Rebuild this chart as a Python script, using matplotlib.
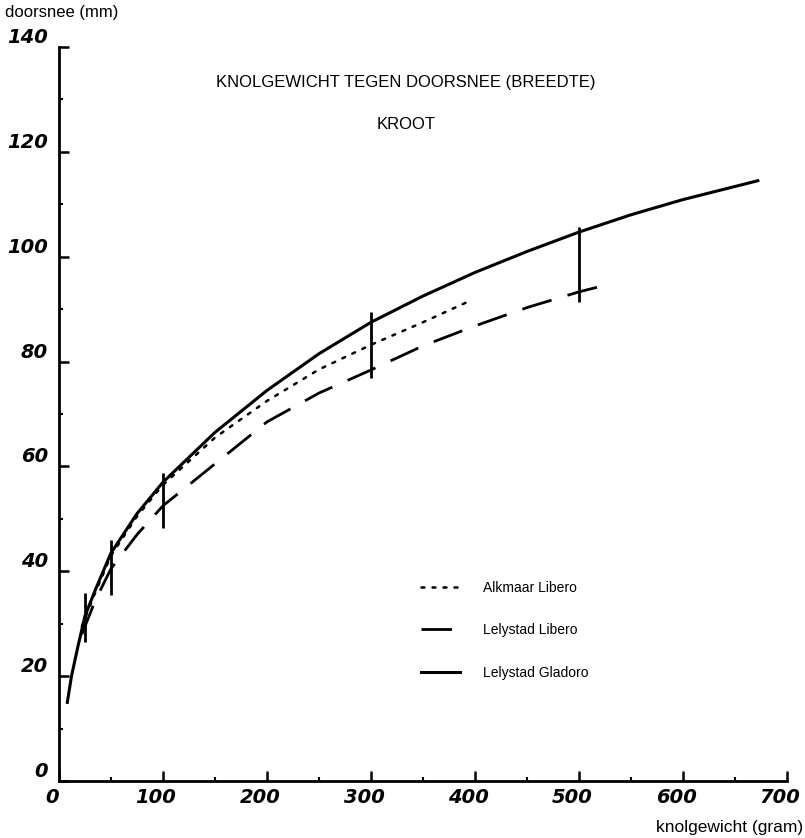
import matplotlib
matplotlib.use("Agg")
import matplotlib.pyplot as plt
import matplotlib.transforms as mtransforms
from matplotlib.ticker import MultipleLocator

# Lelystad Gladoro (solid)
glad_x = [8, 12, 18, 25, 35, 50, 75, 100, 150, 200, 250, 300, 350, 400, 450, 500, 550, 600, 650, 672]
glad_y = [15, 20, 25.5, 31.5, 36.5, 43.5, 51, 57, 66.5, 74.5, 81.5, 87.5, 92.5, 97, 101, 104.7, 108, 110.9, 113.4, 114.5]

# Alkmaar Libero (dotted)
alk_x = [22, 35, 50, 75, 100, 150, 200, 250, 300, 350, 393]
alk_y = [29.5, 36, 43, 50.5, 56.5, 65.5, 72.5, 78.5, 83.2, 87.5, 91.4]

# Lelystad Libero (dashed)
lel_x = [22, 35, 50, 75, 100, 125, 150, 175, 200, 250, 300, 350, 400, 450, 500, 518]
lel_y = [28, 34.5, 40.5, 47, 52.5, 56.5, 60.5, 64.5, 68.5, 74, 78.4, 83, 86.8, 90.3, 93.3, 94.2]

# vertical bars
bar_x = [25, 50, 100, 300, 500]
bar_low = [26.5, 35.5, 48.3, 76.9, 91.4]
bar_high = [35.9, 46, 58.7, 89.5, 105.7]

fig = plt.figure(figsize=(8.05, 8.38), dpi=100)
ax = fig.add_axes([0.0733, 0.068, 0.9043, 0.8759])

ax.plot(alk_x, alk_y, color="black", lw=1.8, linestyle=(0, (1.2, 3.2)),
        dash_capstyle="round", label="Alkmaar Libero")
ax.plot(lel_x, lel_y, color="black", lw=2.0, linestyle=(0, (11, 6)), label="Lelystad Libero")
ax.plot(glad_x, glad_y, color="black", lw=2.2, label="Lelystad Gladoro")
ax.vlines(bar_x, bar_low, bar_high, color="black", lw=2.0)

ax.set_xlim(0, 700)
ax.set_ylim(0, 140)
for s in ["top", "right"]:
    ax.spines[s].set_visible(False)
for s in ["left", "bottom"]:
    ax.spines[s].set_linewidth(2.0)

ax.xaxis.set_major_locator(MultipleLocator(100))
ax.xaxis.set_minor_locator(MultipleLocator(50))
ax.yaxis.set_major_locator(MultipleLocator(20))
ax.yaxis.set_minor_locator(MultipleLocator(10))
ax.tick_params(which="major", direction="in", length=7, width=1.8)
ax.tick_params(which="minor", direction="in", length=3, width=1.5)
ax.tick_params(axis="x", pad=5)
ax.tick_params(axis="y", pad=8)
for lab in ax.get_xticklabels() + ax.get_yticklabels():
    lab.set_fontsize(14)
    lab.set_fontstyle("italic")
    lab.set_fontweight("bold")
    lab.set_fontfamily("DejaVu Sans")
for lab in ax.get_yticklabels():
    lab.set_verticalalignment("bottom")
# x labels sit a little left of their ticks in the original
shift = mtransforms.ScaledTranslation(-7 / 100, 0, fig.dpi_scale_trans)
for lab in ax.get_xticklabels():
    lab.set_transform(lab.get_transform() + shift)

fig.text(0.006, 0.985, "doorsnee (mm)", fontsize=12, family="Liberation Sans",
         ha="left", va="center")
fig.text(0.998, 0.012, "knolgewicht (gram)", fontsize=12.5, family="Liberation Sans",
         ha="right", va="center")

ax.text(0.477, 0.952, "KNOLGEWICHT TEGEN DOORSNEE (BREEDTE)", transform=ax.transAxes,
        ha="center", va="center", fontsize=12, family="Liberation Sans")
ax.text(0.477, 0.894, "KROOT", transform=ax.transAxes,
        ha="center", va="center", fontsize=12, family="Liberation Sans")

leg = ax.legend(loc="upper left", bbox_to_anchor=(0.48, 0.29), frameon=False,
                handlelength=2.8, handletextpad=1.65, labelspacing=2.05,
                prop={"family": "Liberation Sans", "size": 10})

fig.savefig("out.png", dpi=100)
